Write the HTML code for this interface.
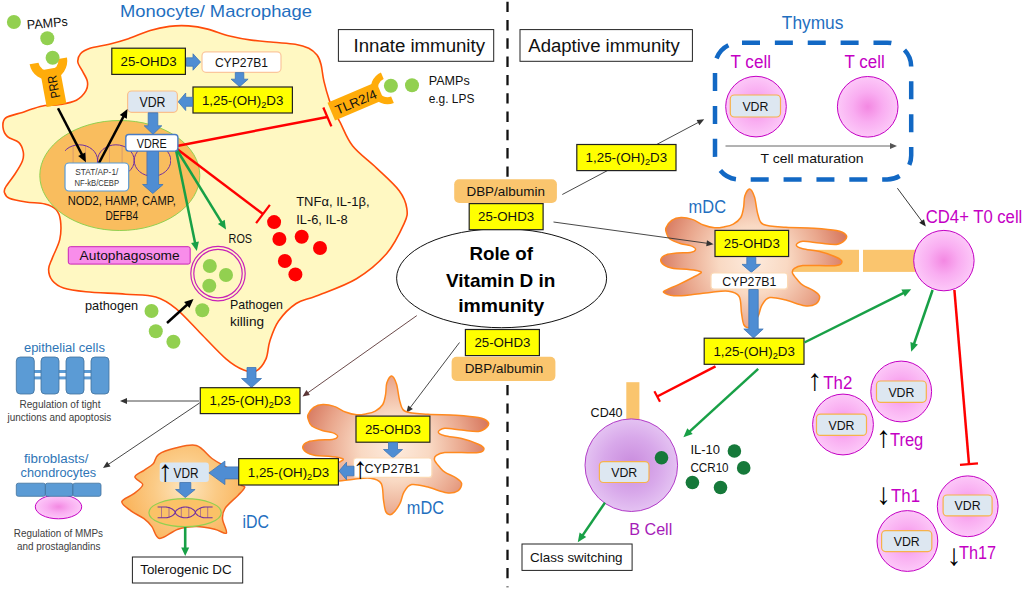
<!DOCTYPE html><html><head><meta charset="utf-8"><title>Role of Vitamin D in immunity</title>
<style>html,body{margin:0;padding:0;background:#fff}svg{display:block}</style></head><body>
<svg width="1024" height="589" viewBox="0 0 1024 589" font-family='"Liberation Sans", sans-serif'>
<defs>
<radialGradient id="gPink" cx="50%" cy="50%" r="50%"><stop offset="0" stop-color="#F388E2"/><stop offset="0.5" stop-color="#F9ADF1"/><stop offset="1" stop-color="#FCC8F8"/></radialGradient>
<radialGradient id="gPurp" cx="50%" cy="50%" r="50%"><stop offset="0" stop-color="#C98BDD"/><stop offset="0.6" stop-color="#D8A8EA"/><stop offset="1" stop-color="#E4C2F2"/></radialGradient>
<radialGradient id="gMDC" gradientUnits="userSpaceOnUse" cx="395" cy="447" r="98"><stop offset="0" stop-color="#FDEBDD"/><stop offset="0.35" stop-color="#F9D9C3"/><stop offset="0.7" stop-color="#E9A68C"/><stop offset="1" stop-color="#D5735A"/></radialGradient>
<radialGradient id="gIDC" gradientUnits="userSpaceOnUse" cx="185" cy="488" r="62"><stop offset="0" stop-color="#FDE6C0"/><stop offset="0.5" stop-color="#FBCB86"/><stop offset="1" stop-color="#FAB45C"/></radialGradient>
</defs>
<rect width="1024" height="589" fill="#fff"/>
<path d="M45.0,105.5 C40.3,106.2 35.8,107.8 32.0,109.0 C28.2,110.2 26.8,110.9 22.4,112.4 C18.0,113.9 8.8,115.5 5.6,118.0 C2.4,120.5 2.7,124.3 3.0,127.4 C3.3,130.5 4.9,134.2 7.5,136.7 C10.1,139.2 16.1,139.8 18.7,142.3 C21.3,144.8 22.6,148.5 23.2,151.6 C23.8,154.7 23.8,157.3 22.4,161.0 C21.0,164.7 17.8,169.7 15.0,174.0 C12.2,178.3 7.3,184.0 5.6,187.1 C3.8,190.2 3.9,190.8 4.5,192.7 C5.1,194.6 5.7,196.8 9.3,198.3 C12.9,199.9 20.2,201.1 26.1,202.0 C32.0,202.9 39.8,202.8 44.8,204.0 C49.8,205.2 53.4,206.7 56.0,209.5 C58.6,212.3 59.9,215.7 60.5,220.7 C61.1,225.7 61.2,233.2 59.8,239.4 C58.4,245.6 54.2,253.1 52.3,258.1 C50.4,263.1 48.6,265.6 48.6,269.3 C48.6,273.0 49.8,277.4 52.3,280.5 C54.8,283.6 57.9,286.1 63.5,288.0 C69.1,289.9 75.6,290.7 85.9,291.7 C96.2,292.7 113.9,293.3 125.6,294.2 C137.2,295.1 147.4,294.6 155.8,297.0 C164.2,299.4 168.5,302.5 176.0,308.6 C183.5,314.7 192.7,325.3 201.0,333.7 C209.3,342.1 218.9,352.8 226.0,358.8 C233.1,364.9 238.7,368.0 243.7,370.0 C248.7,372.0 252.3,372.9 256.0,371.0 C259.7,369.1 263.7,363.8 266.0,358.8 C268.3,353.8 267.7,347.5 269.8,341.2 C271.9,334.9 274.2,327.3 278.6,321.0 C283.0,314.7 289.9,307.7 296.2,303.5 C302.5,299.3 306.2,300.1 316.3,296.0 C326.4,291.9 344.8,285.8 356.5,278.7 C368.2,271.6 378.8,262.7 386.7,253.5 C394.6,244.3 400.8,230.9 404.2,223.4 C407.6,215.9 407.6,213.8 406.8,208.3 C406.0,202.9 404.2,197.4 399.2,190.7 C394.2,184.0 384.4,175.5 376.6,168.1 C368.9,160.7 358.8,153.7 352.7,146.0 C346.6,138.3 343.2,128.1 340.0,122.1 C336.8,116.1 335.3,113.4 333.5,109.8 C331.7,106.2 330.9,105.0 329.3,100.2 C327.7,95.4 325.3,87.0 323.9,81.1 C322.5,75.2 322.2,69.0 321.1,64.7 C320.0,60.4 319.1,57.8 317.0,55.1 C314.9,52.4 312.4,50.1 308.8,48.3 C305.2,46.5 301.1,45.2 295.2,44.2 C289.3,43.2 280.6,43.0 273.3,42.3 C266.0,41.6 258.7,41.1 251.4,40.1 C244.1,39.1 236.8,37.8 229.5,36.0 C222.2,34.2 214.5,30.8 207.7,29.1 C200.9,27.4 194.9,26.3 188.5,25.9 C182.1,25.4 175.8,25.6 169.4,26.4 C163.0,27.2 157.0,28.4 150.2,30.5 C143.4,32.5 135.2,36.4 128.4,38.7 C121.6,41.0 115.6,42.6 109.2,44.2 C102.8,45.8 94.8,46.7 90.0,48.3 C85.2,49.9 82.5,51.5 80.5,53.8 C78.5,56.1 77.6,59.3 77.8,62.0 C78.0,64.7 80.3,67.0 81.9,70.2 C83.5,73.4 86.6,77.7 87.3,81.1 C88.0,84.5 87.8,87.5 86.0,90.7 C84.2,93.9 80.7,97.9 76.4,100.2 C72.1,102.5 65.2,103.6 60.0,104.5 C54.8,105.4 49.7,104.8 45.0,105.5Z" fill="#FFF8C2" stroke="#FF4B0A" stroke-width="1.6"/>
<ellipse cx="119.8" cy="175.5" rx="80" ry="55" fill="#F9BD5E" stroke="#92D050" stroke-width="1"/>
<clipPath id="cd"><rect x="65" y="130" width="106" height="60"/></clipPath><g clip-path="url(#cd)">
<path d="M61.0,160.5 A18.3,15.7 0 0 0 97.6,160.5 A18.3,15.7 0 0 1 134.2,160.5 A18.3,15.7 0 0 0 170.8,160.5" fill="none" stroke="#7030A0" stroke-width="1"/>
<path d="M61.0,160.5 A18.3,15.7 0 0 1 97.6,160.5 A18.3,15.7 0 0 0 134.2,160.5 A18.3,15.7 0 0 1 170.8,160.5" fill="none" stroke="#7030A0" stroke-width="1"/>
<line x1="73.1" y1="145.7" x2="73.1" y2="175.3" stroke="#7030A0" stroke-width="0.5" opacity="0.45"/>
<line x1="85.5" y1="145.7" x2="85.5" y2="175.3" stroke="#7030A0" stroke-width="0.5" opacity="0.45"/>
<line x1="109.7" y1="145.7" x2="109.7" y2="175.3" stroke="#7030A0" stroke-width="0.5" opacity="0.45"/>
<line x1="122.1" y1="145.7" x2="122.1" y2="175.3" stroke="#7030A0" stroke-width="0.5" opacity="0.45"/>
<line x1="146.3" y1="145.7" x2="146.3" y2="175.3" stroke="#7030A0" stroke-width="0.5" opacity="0.45"/>
<line x1="158.7" y1="145.7" x2="158.7" y2="175.3" stroke="#7030A0" stroke-width="0.5" opacity="0.45"/>
</g>
<g transform="translate(48.3,60.9) rotate(-10.5)"><path d="M-19,0 A19,19 0 0 0 19,0 L10,0 A10,10 0 0 1 -10,0 Z" fill="#FFAC0A"/><rect x="-10" y="8" width="20" height="37" fill="#FFAC0A"/>
<text x="0" y="0" font-size="13" fill="#111" transform="translate(5,38) rotate(-90)" textLength="23" lengthAdjust="spacingAndGlyphs">PRR</text></g>
<g transform="translate(387.4,87.8) rotate(67)"><path d="M-16.5,0 A16.5,16.5 0 0 0 16.5,0 L9.5,0 A9.5,9.5 0 0 1 -9.5,0 Z" fill="#FFAC0A"/><rect x="-9.6" y="8" width="19.2" height="53" fill="#FFAC0A"/>
<text x="0" y="0" font-size="13" fill="#111" transform="translate(5.3,56.5) rotate(-90)" textLength="44" lengthAdjust="spacingAndGlyphs">TLR2/4</text></g>
<circle cx="13.9" cy="22.0" r="7" fill="#92D050" stroke="none" stroke-width="1"/>
<circle cx="47.3" cy="38.3" r="7" fill="#92D050" stroke="none" stroke-width="1"/>
<circle cx="52.6" cy="57.7" r="7" fill="#92D050" stroke="none" stroke-width="1"/>
<circle cx="390.9" cy="85.7" r="7" fill="#92D050" stroke="none" stroke-width="1"/>
<circle cx="412.0" cy="85.2" r="7" fill="#92D050" stroke="none" stroke-width="1"/>
<circle cx="151.5" cy="311.0" r="7" fill="#92D050" stroke="none" stroke-width="1"/>
<circle cx="202.3" cy="310.3" r="7" fill="#92D050" stroke="none" stroke-width="1"/>
<circle cx="155.8" cy="331.2" r="7" fill="#92D050" stroke="none" stroke-width="1"/>
<circle cx="173.4" cy="341.7" r="7" fill="#92D050" stroke="none" stroke-width="1"/>
<text x="27.3" y="29.3" font-size="13" fill="#111" textLength="41.0" lengthAdjust="spacingAndGlyphs" transform="rotate(-5 27.3 29.3)" >PAMPs</text>
<text x="428.7" y="85.2" font-size="13" fill="#111" textLength="41.0" lengthAdjust="spacingAndGlyphs" >PAMPs</text>
<text x="428.7" y="103.3" font-size="13" fill="#111" textLength="45.7" lengthAdjust="spacingAndGlyphs" >e.g. LPS</text>
<text x="120.0" y="17.0" font-size="17" fill="#1F6FBF" textLength="192.0" lengthAdjust="spacingAndGlyphs" >Monocyte/ Macrophage</text>
<rect x="338.4" y="29.6" width="155.3" height="31.7" fill="#fff" stroke="#222" stroke-width="1" rx="0" />
<text x="353.5" y="52.0" font-size="18" fill="#111" textLength="131.5" lengthAdjust="spacingAndGlyphs" >Innate immunity</text>
<rect x="520.0" y="29.6" width="172.4" height="31.7" fill="#fff" stroke="#222" stroke-width="1" rx="0" />
<text x="528.3" y="52.0" font-size="18" fill="#111" textLength="151.5" lengthAdjust="spacingAndGlyphs" >Adaptive immunity</text>
<line x1="507.5" y1="1.7" x2="507.5" y2="177" stroke="#111" stroke-width="2.3" stroke-dasharray="10.4 7.9"/>
<line x1="507.5" y1="385.1" x2="507.5" y2="587.3" stroke="#111" stroke-width="2.3" stroke-dasharray="10.2 8.1"/>
<rect x="111.8" y="48.2" width="73.6" height="26.2" fill="#FFFF00" stroke="#222" stroke-width="1.2" rx="0" />
<text x="120.6" y="66.0" font-size="13" fill="#111" textLength="56.0" lengthAdjust="spacingAndGlyphs" >25-OHD3</text>
<polygon points="186.5,66.2 193.0,66.2 193.0,70.2 200.5,62.0 193.0,53.8 193.0,57.8 186.5,57.8" fill="#4F8DD3" stroke="#3E75B5" stroke-width="0.8"/>
<rect x="202.0" y="51.8" width="79.0" height="20.5" fill="#fff" stroke="#FBC79B" stroke-width="1.2" rx="4" />
<text x="241.4" y="67.0" font-size="13" fill="#111" text-anchor="middle" textLength="53.0" lengthAdjust="spacingAndGlyphs" >CYP27B1</text>
<polygon points="235.3,72.6 235.3,79.2 231.1,79.2 239.6,86.7 248.1,79.2 243.8,79.2 243.8,72.6" fill="#4F8DD3" stroke="#3E75B5" stroke-width="0.8"/>
<rect x="193.0" y="87.0" width="99.4" height="26.0" fill="#FFFF00" stroke="#222" stroke-width="1.2" rx="0" />
<text x="201.9" y="104.7" font-size="13" fill="#111" textLength="81.5" lengthAdjust="spacingAndGlyphs" >1,25-(OH)<tspan font-size="9" dy="3">2</tspan><tspan dy="-3">D3</tspan></text>
<polygon points="192.5,97.3 185.7,97.3 185.7,93.0 178.2,101.8 185.7,110.5 185.7,106.3 192.5,106.3" fill="#4F8DD3" stroke="#3E75B5" stroke-width="0.8"/>
<rect x="127.6" y="91.0" width="49.8" height="21.3" fill="#DDE7F1" stroke="#FBC08A" stroke-width="1.2" rx="4" />
<text x="152.5" y="106.8" font-size="14" fill="#111" text-anchor="middle" textLength="26.0" lengthAdjust="spacingAndGlyphs" >VDR</text>
<polygon points="148.2,112.8 148.2,125.8 144.2,125.8 153.0,134.3 161.8,125.8 157.8,125.8 157.8,112.8" fill="#4F8DD3" stroke="#3E75B5" stroke-width="0.8"/>
<polygon points="147.1,150.0 147.1,184.5 142.6,184.5 152.8,193.5 163.1,184.5 158.6,184.5 158.6,150.0" fill="#4F8DD3" stroke="#3E75B5" stroke-width="0.8"/>
<line x1="58.0" y1="108.3" x2="82.6" y2="155.9" stroke="#000" stroke-width="2.5"/>
<polygon points="85.9,162.3 78.2,156.1 85.3,152.5" fill="#000"/>
<line x1="99.0" y1="163.0" x2="124.1" y2="115.4" stroke="#000" stroke-width="2.5"/>
<polygon points="127.5,109.0 126.8,118.8 119.8,115.1" fill="#000"/>
<rect x="65.0" y="163.0" width="63.7" height="28.0" fill="#fff" stroke="#5B9BD5" stroke-width="1.2" rx="4" />
<text x="96.8" y="174.9" font-size="8.3" fill="#333" text-anchor="middle" textLength="43.0" lengthAdjust="spacingAndGlyphs" >STAT/AP-1/</text>
<text x="96.8" y="185.6" font-size="8.3" fill="#333" text-anchor="middle" textLength="44.5" lengthAdjust="spacingAndGlyphs" >NF-kB/CEBP</text>
<line x1="177" y1="146" x2="327.4" y2="116.9" stroke="#FF0000" stroke-width="2.5"/>
<line x1="323.3" y1="107.5" x2="331.4" y2="126.4" stroke="#FF0000" stroke-width="2.3"/>
<line x1="177.0" y1="149.0" x2="263.0" y2="214.0" stroke="#FF0000" stroke-width="2.5"/>
<line x1="256.1" y1="223.2" x2="269.9" y2="204.8" stroke="#FF0000" stroke-width="2.2"/>
<line x1="176.0" y1="150.0" x2="195.3" y2="243.9" stroke="#18A046" stroke-width="2.5"/>
<polygon points="196.8,251.0 191.1,243.0 198.9,241.4" fill="#18A046"/>
<line x1="177.0" y1="150.0" x2="222.2" y2="223.4" stroke="#18A046" stroke-width="2.5"/>
<polygon points="226.0,229.5 217.9,223.9 224.7,219.7" fill="#18A046"/>
<rect x="125.8" y="134.5" width="52.1" height="16.6" fill="#fff" stroke="#4A7CC4" stroke-width="1.4" rx="3" />
<text x="151.8" y="148.0" font-size="12.5" fill="#111" text-anchor="middle" textLength="30.0" lengthAdjust="spacingAndGlyphs" >VDRE</text>
<text x="67.8" y="205.3" font-size="13" fill="#111" textLength="108.0" lengthAdjust="spacingAndGlyphs" >NOD2, HAMP, CAMP,</text>
<text x="105.5" y="220.4" font-size="13" fill="#111" textLength="32.7" lengthAdjust="spacingAndGlyphs" >DEFB4</text>
<rect x="68.3" y="246.7" width="121.9" height="17.4" fill="#F88DEA" stroke="#C822B8" stroke-width="1" rx="2" />
<text x="79.6" y="259.8" font-size="13" fill="#111" textLength="100.0" lengthAdjust="spacingAndGlyphs" >Autophagosome</text>
<text x="228.6" y="243.0" font-size="13" fill="#111" textLength="23.5" lengthAdjust="spacingAndGlyphs" >ROS</text>
<circle cx="218.0" cy="273.6" r="27.2" fill="none" stroke="#C822B8" stroke-width="1.2"/>
<circle cx="218.0" cy="273.6" r="24.2" fill="none" stroke="#C822B8" stroke-width="1.2"/>
<circle cx="209.8" cy="266.0" r="7" fill="#92D050" stroke="none" stroke-width="1"/>
<circle cx="226.0" cy="275.0" r="7" fill="#92D050" stroke="none" stroke-width="1"/>
<circle cx="209.3" cy="285.7" r="7" fill="#92D050" stroke="none" stroke-width="1"/>
<circle cx="274.1" cy="222.1" r="7" fill="#FF0000" stroke="none" stroke-width="1"/>
<circle cx="279.4" cy="239.0" r="7" fill="#FF0000" stroke="none" stroke-width="1"/>
<circle cx="301.7" cy="236.7" r="7" fill="#FF0000" stroke="none" stroke-width="1"/>
<circle cx="320.0" cy="248.0" r="7" fill="#FF0000" stroke="none" stroke-width="1"/>
<circle cx="284.9" cy="261.0" r="7" fill="#FF0000" stroke="none" stroke-width="1"/>
<circle cx="295.4" cy="274.4" r="7" fill="#FF0000" stroke="none" stroke-width="1"/>
<text x="296.2" y="205.8" font-size="13" fill="#111" textLength="73.4" lengthAdjust="spacingAndGlyphs" >TNFα, IL-1β,</text>
<text x="296.2" y="223.9" font-size="13" fill="#111" textLength="51.5" lengthAdjust="spacingAndGlyphs" >IL-6, IL-8</text>
<text x="85.0" y="309.8" font-size="13" fill="#111" textLength="53.2" lengthAdjust="spacingAndGlyphs" >pathogen</text>
<line x1="167.0" y1="323.0" x2="188.2" y2="303.8" stroke="#000" stroke-width="2.5"/>
<polygon points="193.5,299.0 189.5,308.0 184.1,302.1" fill="#000"/>
<text x="230.0" y="308.6" font-size="13" fill="#111" textLength="53.0" lengthAdjust="spacingAndGlyphs" >Pathogen</text>
<text x="230.0" y="325.6" font-size="13" fill="#111" textLength="34.0" lengthAdjust="spacingAndGlyphs" >killing</text>
<polygon points="247.0,367.5 247.0,378.5 241.5,378.5 251.5,387.5 261.5,378.5 256.0,378.5 256.0,367.5" fill="#4F8DD3" stroke="#3E75B5" stroke-width="0.8"/>
<line x1="199.0" y1="401.0" x2="125.6" y2="401.0" stroke="#333" stroke-width="0.9"/>
<polygon points="120.0,401.0 127.0,398.0 127.0,404.0" fill="#333"/>
<line x1="199.5" y1="403.0" x2="107.6" y2="464.9" stroke="#333" stroke-width="0.9"/>
<polygon points="103.0,468.0 107.1,461.6 110.5,466.6" fill="#333"/>
<line x1="416.8" y1="315.6" x2="307.1" y2="393.3" stroke="#5a3535" stroke-width="0.9"/>
<polygon points="302.5,396.5 306.5,390.0 309.9,394.9" fill="#5a3535"/>
<line x1="459.5" y1="342.5" x2="409.7" y2="408.3" stroke="#333" stroke-width="0.9"/>
<polygon points="406.3,412.8 408.1,405.4 412.9,409.0" fill="#333"/>
<rect x="200.3" y="387.7" width="99.7" height="25.9" fill="#FFFF00" stroke="#222" stroke-width="1.2" rx="0" />
<text x="209.4" y="405.3" font-size="13" fill="#111" textLength="81.5" lengthAdjust="spacingAndGlyphs" >1,25-(OH)<tspan font-size="9" dy="3">2</tspan><tspan dy="-3">D3</tspan></text>
<text x="23.9" y="351.8" font-size="12.5" fill="#2E75B6" textLength="81.0" lengthAdjust="spacingAndGlyphs" >epithelial cells</text>
<rect x="30.0" y="370.0" width="70.0" height="3.0" fill="#5B9BD5" stroke="none" stroke-width="1" rx="0" />
<rect x="30.0" y="376.4" width="70.0" height="3.0" fill="#5B9BD5" stroke="none" stroke-width="1" rx="0" />
<rect x="16.3" y="357.0" width="18.0" height="37.0" fill="#5B9BD5" stroke="#41719C" stroke-width="0.8" rx="4" />
<rect x="41.0" y="357.0" width="18.0" height="37.0" fill="#5B9BD5" stroke="#41719C" stroke-width="0.8" rx="4" />
<rect x="66.0" y="357.0" width="18.0" height="37.0" fill="#5B9BD5" stroke="#41719C" stroke-width="0.8" rx="4" />
<rect x="91.0" y="357.0" width="18.0" height="37.0" fill="#5B9BD5" stroke="#41719C" stroke-width="0.8" rx="4" />
<text x="60.0" y="407.8" font-size="10" fill="#404040" text-anchor="middle" textLength="81.0" lengthAdjust="spacingAndGlyphs" >Regulation of tight</text>
<text x="59.4" y="420.9" font-size="10" fill="#404040" text-anchor="middle" textLength="103.8" lengthAdjust="spacingAndGlyphs" >junctions and apoptosis</text>
<text x="23.9" y="463.0" font-size="12.5" fill="#2E75B6" textLength="64.5" lengthAdjust="spacingAndGlyphs" >fibroblasts/</text>
<text x="20.6" y="477.0" font-size="12.5" fill="#2E75B6" textLength="75.6" lengthAdjust="spacingAndGlyphs" >chondrocytes</text>
<ellipse cx="58.5" cy="506.8" rx="23.2" ry="12" fill="url(#gPink)" stroke="#C400C4" stroke-width="1"/>
<rect x="16.3" y="483.2" width="29.1" height="13.1" fill="#5B9BD5" stroke="#41719C" stroke-width="0.8" rx="2" />
<rect x="45.4" y="483.2" width="27.5" height="13.1" fill="#5B9BD5" stroke="#41719C" stroke-width="0.8" rx="2" />
<rect x="72.9" y="483.2" width="28.1" height="13.1" fill="#5B9BD5" stroke="#41719C" stroke-width="0.8" rx="2" />
<text x="58.4" y="537.0" font-size="10" fill="#404040" text-anchor="middle" textLength="89.2" lengthAdjust="spacingAndGlyphs" >Regulation of MMPs</text>
<text x="58.7" y="549.5" font-size="10" fill="#404040" text-anchor="middle" textLength="83.5" lengthAdjust="spacingAndGlyphs" >and prostaglandins</text>
<path d="M175.4,448.1 C181.7,446.6 190.2,443.8 196.3,445.5 C202.4,447.2 207.2,455.0 212.0,458.5 C216.8,462.0 221.1,464.0 225.1,466.4 C229.1,468.8 233.4,469.9 236.0,473.0 C238.6,476.1 239.4,482.3 240.8,484.7 C242.2,487.1 245.1,485.6 244.7,487.3 C244.3,489.1 241.5,491.7 238.2,495.2 C234.9,498.7 227.7,504.4 225.1,508.3 C222.5,512.2 222.3,514.6 222.5,518.7 C222.7,522.8 227.7,531.4 226.4,533.1 C225.1,534.9 219.7,530.3 214.7,529.2 C209.7,528.1 202.4,526.6 196.3,526.6 C190.2,526.6 184.1,527.2 178.0,529.2 C171.9,531.2 164.0,538.8 159.7,538.4 C155.3,538.0 154.5,529.9 151.9,526.6 C149.3,523.3 147.5,521.3 144.0,518.7 C140.5,516.1 134.6,513.7 130.9,510.9 C127.2,508.1 121.4,504.5 121.8,501.7 C122.2,498.9 130.0,496.7 133.5,493.9 C137.0,491.1 142.5,487.5 142.7,484.7 C142.9,481.9 134.7,479.3 134.9,476.9 C135.1,474.5 140.9,472.5 144.0,470.3 C147.1,468.1 150.8,466.4 153.2,463.8 C155.6,461.2 154.7,457.2 158.4,454.6 C162.1,452.0 169.1,449.6 175.4,448.1Z" fill="url(#gIDC)" stroke="#F4621B" stroke-width="1.5"/>
<rect x="159.7" y="462.5" width="49.2" height="19.6" fill="#D9E6F3" stroke="none" stroke-width="0" rx="3" />
<text x="165.3" y="480.8" font-size="30" fill="#000" text-anchor="middle">↑</text>
<text x="173.5" y="477.5" font-size="14" fill="#111" textLength="25.0" lengthAdjust="spacingAndGlyphs" >VDR</text>
<polygon points="238.5,466.9 224.9,466.9 224.9,461.1 208.9,472.9 224.9,484.6 224.9,478.9 238.5,478.9" fill="#4F8DD3" stroke="#3E75B5" stroke-width="0.8"/>
<polygon points="179.8,482.5 179.8,489.5 175.6,489.5 185.3,497.5 195.1,489.5 190.8,489.5 190.8,482.5" fill="#4F8DD3" stroke="#3E75B5" stroke-width="0.8"/>
<ellipse cx="185.1" cy="512.7" rx="36.2" ry="14" fill="#FBC267" stroke="#92D050" stroke-width="1.2"/>
<polyline points="157.6,507.0 158.1,507.0 158.6,507.0 159.1,507.0 159.6,507.0 160.1,507.0 160.6,507.0 161.1,507.0 161.6,507.0 162.1,507.0 162.6,507.0 163.1,507.0 163.6,507.0 164.1,507.0 164.6,507.0 165.1,507.0 165.6,507.0 166.1,507.0 166.6,507.1 167.1,507.2 167.6,507.2 168.1,507.4 168.6,507.5 169.1,507.6 169.6,507.8 170.1,508.0 170.6,508.2 171.1,508.4 171.6,508.7 172.1,509.0 172.6,509.3 173.1,509.7 173.6,510.1 174.1,510.5 174.6,511.1 175.1,512.0 175.6,513.4 176.1,514.1 176.6,514.6 177.1,515.0 177.6,515.3 178.1,515.7 178.6,516.0 179.1,516.3 179.6,516.5 180.1,516.7 180.6,516.9 181.1,517.1 181.6,517.3 182.1,517.4 182.6,517.5 183.1,517.6 183.6,517.7 184.1,517.7 184.6,517.8 185.1,517.8 185.6,517.8 186.1,517.8 186.6,517.7 187.1,517.7 187.6,517.6 188.1,517.5 188.6,517.4 189.1,517.2 189.6,517.1 190.1,516.9 190.6,516.7 191.1,516.5 191.6,516.2 192.1,515.9 192.6,515.6 193.1,515.3 193.6,514.9 194.1,514.5 194.6,513.9 195.1,513.3 195.6,511.7 196.1,511.0 196.6,510.4 197.1,510.0 197.6,509.6 198.1,509.2 198.6,508.9 199.1,508.7 199.6,508.4 200.1,508.2 200.6,508.0 201.1,507.8 201.6,507.6 202.1,507.5 202.6,507.3 203.1,507.2 203.6,507.1 204.1,507.1 204.6,507.0 205.1,507.0 205.6,507.0 206.1,507.0 206.6,507.0 207.1,507.0 207.6,507.0 208.1,507.0 208.6,507.0 209.1,507.0 209.6,507.0 210.1,507.0 210.6,507.0 211.1,507.0 211.6,507.0 212.1,507.0 212.6,507.0" fill="none" stroke="#7030A0" stroke-width="1.1" stroke-linejoin="round"/>
<polyline points="157.6,517.8 158.1,517.8 158.6,517.8 159.1,517.8 159.6,517.8 160.1,517.8 160.6,517.8 161.1,517.8 161.6,517.8 162.1,517.8 162.6,517.8 163.1,517.8 163.6,517.8 164.1,517.8 164.6,517.8 165.1,517.8 165.6,517.8 166.1,517.8 166.6,517.7 167.1,517.6 167.6,517.6 168.1,517.4 168.6,517.3 169.1,517.2 169.6,517.0 170.1,516.8 170.6,516.6 171.1,516.4 171.6,516.1 172.1,515.8 172.6,515.5 173.1,515.1 173.6,514.7 174.1,514.3 174.6,513.7 175.1,512.8 175.6,511.4 176.1,510.7 176.6,510.2 177.1,509.8 177.6,509.5 178.1,509.1 178.6,508.8 179.1,508.5 179.6,508.3 180.1,508.1 180.6,507.9 181.1,507.7 181.6,507.5 182.1,507.4 182.6,507.3 183.1,507.2 183.6,507.1 184.1,507.1 184.6,507.0 185.1,507.0 185.6,507.0 186.1,507.0 186.6,507.1 187.1,507.1 187.6,507.2 188.1,507.3 188.6,507.4 189.1,507.6 189.6,507.7 190.1,507.9 190.6,508.1 191.1,508.3 191.6,508.6 192.1,508.9 192.6,509.2 193.1,509.5 193.6,509.9 194.1,510.3 194.6,510.9 195.1,511.5 195.6,513.1 196.1,513.8 196.6,514.4 197.1,514.8 197.6,515.2 198.1,515.6 198.6,515.9 199.1,516.1 199.6,516.4 200.1,516.6 200.6,516.8 201.1,517.0 201.6,517.2 202.1,517.3 202.6,517.5 203.1,517.6 203.6,517.7 204.1,517.7 204.6,517.8 205.1,517.8 205.6,517.8 206.1,517.8 206.6,517.8 207.1,517.8 207.6,517.8 208.1,517.8 208.6,517.8 209.1,517.8 209.6,517.8 210.1,517.8 210.6,517.8 211.1,517.8 211.6,517.8 212.1,517.8 212.6,517.8" fill="none" stroke="#7030A0" stroke-width="1.1" stroke-linejoin="round"/>
<line x1="161.5" y1="507.0" x2="161.5" y2="517.8" stroke="#7030A0" stroke-width="0.7" opacity="0.75"/>
<line x1="169" y1="507.6" x2="169" y2="517.2" stroke="#7030A0" stroke-width="0.7" opacity="0.75"/>
<line x1="181.3" y1="507.6" x2="181.3" y2="517.2" stroke="#7030A0" stroke-width="0.7" opacity="0.75"/>
<line x1="188.8" y1="507.5" x2="188.8" y2="517.3" stroke="#7030A0" stroke-width="0.7" opacity="0.75"/>
<line x1="200.6" y1="508.0" x2="200.6" y2="516.8" stroke="#7030A0" stroke-width="0.7" opacity="0.75"/>
<line x1="207.7" y1="507.0" x2="207.7" y2="517.8" stroke="#7030A0" stroke-width="0.7" opacity="0.75"/>
<line x1="185.2" y1="527.0" x2="185.2" y2="549.2" stroke="#18A046" stroke-width="2.6"/>
<polygon points="185.2,556.0 181.2,547.5 189.2,547.5" fill="#18A046"/>
<rect x="132.4" y="557.0" width="110.3" height="26.0" fill="#fff" stroke="#222" stroke-width="1" rx="0" />
<text x="140.2" y="574.2" font-size="13" fill="#111" textLength="91.5" lengthAdjust="spacingAndGlyphs" >Tolerogenic DC</text>
<text x="242.5" y="528.0" font-size="18" fill="#1F6FBF" textLength="26.5" lengthAdjust="spacingAndGlyphs" >iDC</text>
<path id="mdc" d="M391.7,376.0 C393.3,376.2 395.1,379.8 396.5,384.0 C397.9,388.2 398.4,396.8 399.9,401.4 C401.4,406.0 400.9,409.4 405.6,411.5 C410.3,413.6 419.6,413.7 428.0,414.3 C436.4,414.9 447.6,414.6 456.0,415.2 C464.4,415.8 473.1,416.5 478.4,417.6 C483.7,418.7 486.4,420.1 487.8,421.7 C489.2,423.3 488.4,425.7 486.8,427.3 C485.2,428.9 482.6,431.0 478.4,431.5 C474.2,432.0 467.2,430.6 461.6,430.1 C456.0,429.6 448.7,428.0 444.8,428.3 C440.9,428.6 438.3,430.8 438.3,432.0 C438.3,433.2 440.9,434.7 444.8,435.8 C448.7,436.9 456.0,437.2 461.6,438.6 C467.2,440.0 474.7,442.5 478.4,444.2 C482.1,445.9 484.0,447.4 484.0,448.8 C484.0,450.2 482.1,452.0 478.4,452.6 C474.7,453.2 467.2,452.6 461.6,452.6 C456.0,452.6 449.0,452.1 444.8,452.6 C440.6,453.1 438.1,454.2 436.4,455.4 C434.7,456.6 434.0,458.1 434.5,460.0 C435.0,461.9 437.5,464.6 439.2,466.6 C440.9,468.6 442.0,470.3 444.8,472.2 C447.6,474.1 453.2,475.9 456.0,477.8 C458.8,479.7 461.3,481.2 461.6,483.4 C461.9,485.6 460.4,489.2 457.9,490.8 C455.4,492.4 451.7,493.3 446.7,492.7 C441.7,492.1 433.8,488.5 428.0,487.1 C422.2,485.8 415.7,483.8 411.7,484.6 C407.7,485.4 406.0,488.8 404.0,492.0 C402.0,495.2 401.9,499.9 399.9,503.6 C397.9,507.3 394.3,512.6 392.0,514.0 C389.7,515.4 387.4,514.3 386.0,512.0 C384.6,509.7 384.3,504.9 383.5,500.1 C382.7,495.4 383.4,487.1 381.2,483.5 C379.0,479.9 375.1,479.0 370.5,478.3 C365.9,477.6 359.8,478.6 353.8,479.2 C347.9,479.8 341.1,481.0 334.8,481.6 C328.5,482.2 320.6,483.2 315.8,482.8 C311.0,482.4 307.0,480.5 305.8,479.5 C304.6,478.5 306.2,478.1 308.6,476.8 C311.1,475.5 316.1,473.7 320.5,471.6 C324.9,469.6 331.0,466.5 334.8,464.5 C338.6,462.5 342.3,460.9 343.1,459.8 C343.9,458.7 342.2,458.4 339.8,457.8 C337.4,457.2 332.7,456.7 328.6,456.3 C324.6,455.9 319.2,456.2 315.5,455.5 C311.8,454.8 308.3,453.7 306.2,452.2 C304.1,450.7 302.5,448.3 302.8,446.6 C303.1,444.9 305.2,443.0 308.0,441.9 C310.8,440.8 315.2,440.4 319.3,440.0 C323.4,439.6 329.2,440.1 332.3,439.5 C335.4,438.9 337.6,437.4 337.6,436.3 C337.6,435.2 334.7,433.5 332.3,432.6 C329.9,431.7 326.4,431.8 323.0,430.7 C319.6,429.6 314.2,427.8 311.8,426.0 C309.4,424.2 309.1,421.9 308.5,420.0 C307.9,418.1 307.1,416.9 308.0,414.8 C308.9,412.7 311.2,409.0 313.7,407.3 C316.2,405.6 319.6,404.6 323.0,404.5 C326.4,404.4 330.5,405.1 334.2,406.4 C337.9,407.6 341.7,410.6 345.4,412.0 C349.1,413.4 353.2,414.5 356.6,414.8 C360.0,415.1 362.9,414.5 366.0,413.9 C369.1,413.3 372.5,412.7 375.3,411.1 C378.1,409.5 381.1,407.3 382.8,404.5 C384.5,401.7 384.9,397.9 385.6,394.3 C386.3,390.7 385.8,386.1 386.8,383.0 C387.8,379.9 390.1,375.8 391.7,376.0Z" fill="url(#gMDC)" stroke="#FF8A1F" stroke-width="1.5"/>
<rect x="356.0" y="416.1" width="73.9" height="26.1" fill="#FFFF00" stroke="#222" stroke-width="1.2" rx="0" />
<text x="364.9" y="433.8" font-size="13" fill="#111" textLength="56.0" lengthAdjust="spacingAndGlyphs" >25-OHD3</text>
<polygon points="388.5,442.5 388.5,449.5 383.5,449.5 393.0,458.0 402.5,449.5 397.5,449.5 397.5,442.5" fill="#4F8DD3" stroke="#3E75B5" stroke-width="0.8"/>
<rect x="353.5" y="458.0" width="78.4" height="19.4" fill="#fff" stroke="#FBD9B5" stroke-width="1.2" rx="3" />
<text x="360.2" y="477.6" font-size="30" fill="#000" text-anchor="middle">↑</text>
<text x="364.5" y="473.0" font-size="13" fill="#111" textLength="55.3" lengthAdjust="spacingAndGlyphs" >CYP27B1</text>
<polygon points="354.0,466.2 346.5,466.2 346.5,462.2 339.0,471.0 346.5,479.8 346.5,475.8 354.0,475.8" fill="#4F8DD3" stroke="#3E75B5" stroke-width="0.8"/>
<rect x="238.7" y="458.6" width="99.7" height="26.4" fill="#FFFF00" stroke="#222" stroke-width="1.2" rx="0" />
<text x="247.8" y="476.5" font-size="13" fill="#111" textLength="81.5" lengthAdjust="spacingAndGlyphs" >1,25-(OH)<tspan font-size="9" dy="3">2</tspan><tspan dy="-3">D3</tspan></text>
<text x="406.8" y="513.9" font-size="17.5" fill="#1F6FBF" textLength="37.2" lengthAdjust="spacingAndGlyphs" >mDC</text>
<ellipse cx="501.6" cy="278.2" rx="105" ry="49.5" fill="#fff" stroke="#111" stroke-width="1"/>
<text x="501.2" y="259.6" font-size="18.5" fill="#000" text-anchor="middle" textLength="63.5" lengthAdjust="spacingAndGlyphs" font-weight="bold" >Role of</text>
<text x="500.7" y="286.5" font-size="18.5" fill="#000" text-anchor="middle" textLength="109.4" lengthAdjust="spacingAndGlyphs" font-weight="bold" >Vitamin D in</text>
<text x="501.2" y="311.9" font-size="18.5" fill="#000" text-anchor="middle" textLength="85.9" lengthAdjust="spacingAndGlyphs" font-weight="bold" >immunity</text>
<rect x="454.2" y="179.3" width="102.7" height="23.6" fill="#FAC56E" stroke="none" stroke-width="1" rx="5" />
<text x="505.7" y="196.0" font-size="13" fill="#111" text-anchor="middle" textLength="78.5" lengthAdjust="spacingAndGlyphs" >DBP/albumin</text>
<rect x="469.2" y="203.6" width="73.9" height="26.1" fill="#FFFF00" stroke="#222" stroke-width="1.2" rx="0" />
<text x="478.1" y="221.3" font-size="13" fill="#111" textLength="56.0" lengthAdjust="spacingAndGlyphs" >25-OHD3</text>
<rect x="465.4" y="329.5" width="74.0" height="26.1" fill="#FFFF00" stroke="#222" stroke-width="1.2" rx="0" />
<text x="474.4" y="347.2" font-size="13" fill="#111" textLength="56.0" lengthAdjust="spacingAndGlyphs" >25-OHD3</text>
<rect x="451.6" y="356.7" width="103.8" height="24.3" fill="#FAC56E" stroke="none" stroke-width="1" rx="5" />
<text x="503.9" y="372.8" font-size="13" fill="#111" text-anchor="middle" textLength="78.5" lengthAdjust="spacingAndGlyphs" >DBP/albumin</text>
<line x1="562.3" y1="194.5" x2="699.3" y2="121.9" stroke="#333" stroke-width="0.9"/>
<polygon points="704.2,119.3 699.4,125.2 696.6,119.9" fill="#333"/>
<rect x="576.8" y="144.5" width="99.2" height="26.1" fill="#FFFF00" stroke="#222" stroke-width="1.2" rx="0" />
<text x="585.6" y="162.2" font-size="13" fill="#111" textLength="81.5" lengthAdjust="spacingAndGlyphs" >1,25-(OH)<tspan font-size="9" dy="3">2</tspan><tspan dy="-3">D3</tspan></text>
<rect x="715" y="42.7" width="196.2" height="136.7" rx="24" fill="none" stroke="#1268C4" stroke-width="4.5" stroke-dasharray="18 14.87" stroke-dashoffset="-3"/>
<text x="781.8" y="28.9" font-size="17.5" fill="#1F6FBF" textLength="61.6" lengthAdjust="spacingAndGlyphs" >Thymus</text>
<text x="730.5" y="67.8" font-size="17.5" fill="#C400C4" textLength="40.5" lengthAdjust="spacingAndGlyphs" >T cell</text>
<text x="844.6" y="67.8" font-size="17.5" fill="#C400C4" textLength="40.2" lengthAdjust="spacingAndGlyphs" >T cell</text>
<circle cx="756.0" cy="106.6" r="30.3" fill="url(#gPink)" stroke="#C400C4" stroke-width="1"/>
<circle cx="867.7" cy="106.8" r="30.3" fill="url(#gPink)" stroke="#C400C4" stroke-width="1"/>
<rect x="730.3" y="95.0" width="50.2" height="22.0" fill="#DDE7F1" stroke="#F6B24A" stroke-width="1.2" rx="4" />
<text x="755.4" y="110.9" font-size="13.5" fill="#111" text-anchor="middle" textLength="26.0" lengthAdjust="spacingAndGlyphs" >VDR</text>
<line x1="725.5" y1="146.0" x2="891.4" y2="146.0" stroke="#555" stroke-width="0.9"/>
<polygon points="897.0,146.0 890.0,149.0 890.0,143.0" fill="#555"/>
<text x="760.5" y="162.5" font-size="13" fill="#111" textLength="103.0" lengthAdjust="spacingAndGlyphs" >T cell maturation</text>
<line x1="897.4" y1="188.2" x2="922.5" y2="222.1" stroke="#222" stroke-width="0.9"/>
<polygon points="925.8,226.6 919.2,222.8 924.0,219.2" fill="#222"/>
<rect x="790.0" y="249.8" width="69.0" height="22.1" fill="#FAC56E" stroke="none" stroke-width="1" rx="0" />
<rect x="863.0" y="249.8" width="53.0" height="22.1" fill="#FAC56E" stroke="none" stroke-width="1" rx="0" />
<use href="#mdc" transform="translate(358,-187)"/>
<line x1="553.5" y1="222.0" x2="708.0" y2="243.4" stroke="#333" stroke-width="0.9"/>
<polygon points="713.5,244.2 706.2,246.2 707.0,240.3" fill="#333"/>
<text x="688.6" y="212.8" font-size="17.5" fill="#1F6FBF" textLength="37.4" lengthAdjust="spacingAndGlyphs" >mDC</text>
<rect x="715.0" y="230.4" width="73.6" height="26.1" fill="#FFFF00" stroke="#222" stroke-width="1.2" rx="0" />
<text x="723.8" y="248.1" font-size="13" fill="#111" textLength="56.0" lengthAdjust="spacingAndGlyphs" >25-OHD3</text>
<polygon points="746.8,257.3 746.8,264.4 742.0,264.4 751.3,272.4 760.5,264.4 755.8,264.4 755.8,257.3" fill="#4F8DD3" stroke="#3E75B5" stroke-width="0.8"/>
<rect x="711.0" y="273.0" width="76.6" height="16.2" fill="#fff" stroke="#FBD9B5" stroke-width="1.2" rx="3" />
<text x="749.3" y="286.0" font-size="13" fill="#111" text-anchor="middle" textLength="54.0" lengthAdjust="spacingAndGlyphs" >CYP27B1</text>
<polygon points="748.8,289.5 748.8,329.0 743.8,329.0 753.5,338.0 763.2,329.0 758.2,329.0 758.2,289.5" fill="#4F8DD3" stroke="#3E75B5" stroke-width="0.8"/>
<rect x="704.2" y="338.2" width="99.8" height="26.1" fill="#FFFF00" stroke="#222" stroke-width="1.2" rx="0" />
<text x="713.4" y="355.9" font-size="13" fill="#111" textLength="81.5" lengthAdjust="spacingAndGlyphs" >1,25-(OH)<tspan font-size="9" dy="3">2</tspan><tspan dy="-3">D3</tspan></text>
<text x="925.8" y="222.9" font-size="17.5" fill="#C400C4" textLength="96.5" lengthAdjust="spacingAndGlyphs" >CD4+ T0 cell</text>
<line x1="804.4" y1="342.5" x2="904.8" y2="292.4" stroke="#18A046" stroke-width="2.5"/>
<polygon points="911.2,289.2 904.9,296.8 901.4,289.6" fill="#18A046"/>
<line x1="932.6" y1="290.0" x2="913.6" y2="345.0" stroke="#18A046" stroke-width="2.5"/>
<polygon points="911.2,351.8 910.4,342.0 917.9,344.6" fill="#18A046"/>
<line x1="954.4" y1="290.0" x2="969.0" y2="464.1" stroke="#FF0000" stroke-width="2.5"/>
<line x1="960.0" y1="464.9" x2="978.0" y2="463.3" stroke="#FF0000" stroke-width="2.2"/>
<circle cx="943.9" cy="260.6" r="30.2" fill="url(#gPink)" stroke="#C400C4" stroke-width="1"/>
<line x1="715.5" y1="366.4" x2="657.2" y2="396.5" stroke="#FF0000" stroke-width="2.5"/>
<line x1="654.4" y1="391.2" x2="660.0" y2="401.8" stroke="#FF0000" stroke-width="2.2"/>
<line x1="758.2" y1="368.9" x2="688.7" y2="432.3" stroke="#18A046" stroke-width="2.5"/>
<polygon points="683.4,437.2 687.3,428.2 692.7,434.1" fill="#18A046"/>
<rect x="626.3" y="382.2" width="13.1" height="38.8" fill="#FAC56E" stroke="none" stroke-width="1" rx="0" />
<text x="590.6" y="417.1" font-size="13" fill="#111" textLength="32.0" lengthAdjust="spacingAndGlyphs" >CD40</text>
<circle cx="631.3" cy="465.2" r="46.3" fill="url(#gPurp)" stroke="#B23CC8" stroke-width="1"/>
<rect x="599.4" y="461.6" width="49.6" height="20.9" fill="#DDE7F1" stroke="#F6B24A" stroke-width="1.2" rx="4" />
<text x="624.2" y="476.9" font-size="13.5" fill="#111" text-anchor="middle" textLength="26.0" lengthAdjust="spacingAndGlyphs" >VDR</text>
<circle cx="661.5" cy="457.8" r="6.8" fill="#16793A" stroke="none" stroke-width="1"/>
<circle cx="734.4" cy="451.0" r="6.8" fill="#16793A" stroke="none" stroke-width="1"/>
<circle cx="743.7" cy="467.9" r="6.8" fill="#16793A" stroke="none" stroke-width="1"/>
<circle cx="692.4" cy="482.5" r="6.8" fill="#16793A" stroke="none" stroke-width="1"/>
<circle cx="720.5" cy="487.5" r="6.8" fill="#16793A" stroke="none" stroke-width="1"/>
<text x="690.4" y="454.1" font-size="13" fill="#111" textLength="29.6" lengthAdjust="spacingAndGlyphs" >IL-10</text>
<text x="690.4" y="472.4" font-size="13" fill="#111" textLength="38.2" lengthAdjust="spacingAndGlyphs" >CCR10</text>
<line x1="605.0" y1="502.6" x2="581.9" y2="536.4" stroke="#18A046" stroke-width="2.5"/>
<polygon points="577.8,542.3 579.6,532.6 586.2,537.1" fill="#18A046"/>
<text x="629.3" y="534.5" font-size="17" fill="#A61CB8" textLength="43.0" lengthAdjust="spacingAndGlyphs" >B Cell</text>
<rect x="522.0" y="544.0" width="110.1" height="26.4" fill="#fff" stroke="#222" stroke-width="1" rx="0" />
<text x="530.1" y="562.1" font-size="13" fill="#111" textLength="92.5" lengthAdjust="spacingAndGlyphs" >Class switching</text>
<circle cx="901.2" cy="391.5" r="30.4" fill="url(#gPink)" stroke="#C400C4" stroke-width="1"/>
<rect x="876.5" y="381.0" width="49.8" height="21.3" fill="#DDE7F1" stroke="#F6B24A" stroke-width="1.2" rx="4" />
<text x="901.4" y="396.5" font-size="13.5" fill="#111" text-anchor="middle" textLength="26.0" lengthAdjust="spacingAndGlyphs" >VDR</text>
<circle cx="843.0" cy="424.5" r="30.4" fill="url(#gPink)" stroke="#C400C4" stroke-width="1"/>
<rect x="816.5" y="414.1" width="50.0" height="21.3" fill="#DDE7F1" stroke="#F6B24A" stroke-width="1.2" rx="4" />
<text x="841.5" y="429.6" font-size="13.5" fill="#111" text-anchor="middle" textLength="26.0" lengthAdjust="spacingAndGlyphs" >VDR</text>
<circle cx="967.7" cy="506.3" r="30.4" fill="url(#gPink)" stroke="#C400C4" stroke-width="1"/>
<rect x="943.1" y="495.0" width="49.0" height="20.9" fill="#DDE7F1" stroke="#F6B24A" stroke-width="1.2" rx="4" />
<text x="967.6" y="510.3" font-size="13.5" fill="#111" text-anchor="middle" textLength="26.0" lengthAdjust="spacingAndGlyphs" >VDR</text>
<circle cx="907.4" cy="541.0" r="30.4" fill="url(#gPink)" stroke="#C400C4" stroke-width="1"/>
<rect x="881.6" y="530.7" width="50.2" height="20.9" fill="#DDE7F1" stroke="#F6B24A" stroke-width="1.2" rx="4" />
<text x="906.7" y="546.0" font-size="13.5" fill="#111" text-anchor="middle" textLength="26.0" lengthAdjust="spacingAndGlyphs" >VDR</text>
<text x="814.7" y="390.2" font-size="30" fill="#000" text-anchor="middle">↑</text>
<text x="823.3" y="389.0" font-size="17.5" fill="#C400C4" textLength="29.0" lengthAdjust="spacingAndGlyphs" >Th2</text>
<text x="883.6" y="447.0" font-size="30" fill="#000" text-anchor="middle">↑</text>
<text x="889.9" y="446.0" font-size="17.5" fill="#C400C4" textLength="33.4" lengthAdjust="spacingAndGlyphs" >Treg</text>
<text x="883.6" y="504.3" font-size="30" fill="#000" text-anchor="middle">↓</text>
<text x="891.1" y="502.0" font-size="17.5" fill="#C400C4" textLength="29.0" lengthAdjust="spacingAndGlyphs" >Th1</text>
<text x="953.9" y="565.4" font-size="30" fill="#000" text-anchor="middle">↓</text>
<text x="959.0" y="559.1" font-size="17.5" fill="#C400C4" textLength="37.1" lengthAdjust="spacingAndGlyphs" >Th17</text>
</svg></body></html>
